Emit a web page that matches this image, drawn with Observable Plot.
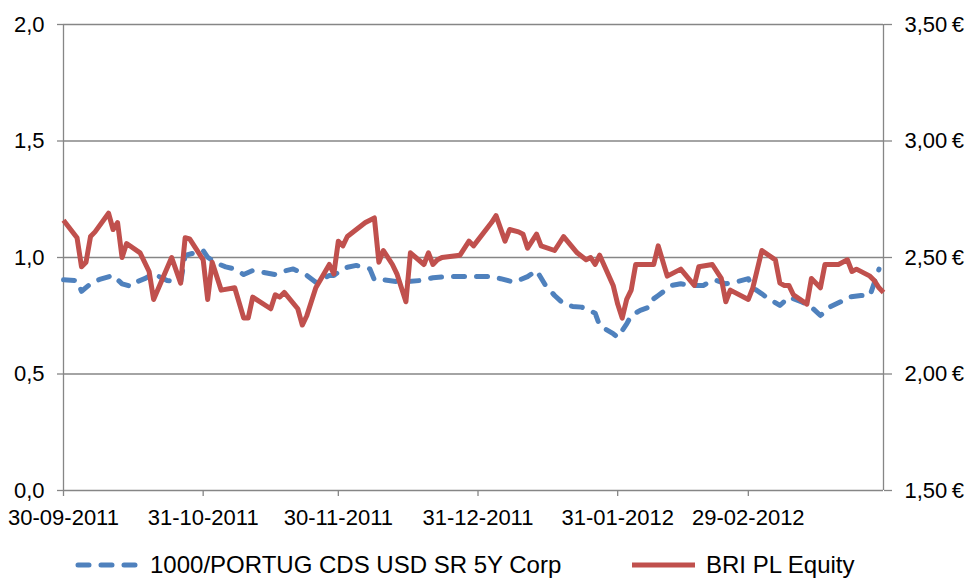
<!DOCTYPE html>
<html><head><meta charset="utf-8">
<script src="https://cdn.jsdelivr.net/npm/d3@7"></script>
<script src="https://cdn.jsdelivr.net/npm/@observablehq/plot@0.6"></script>
<style>
body{margin:0;background:#fff;font-family:"Liberation Sans",Arial,sans-serif;}
#chart{position:relative;width:965px;height:578px;overflow:hidden;}
#legend{position:absolute;left:0;top:546px;width:965px;height:38px;font-size:24px;color:#000;}
#legend .item{position:absolute;top:0;height:38px;display:flex;align-items:center;white-space:nowrap;}
#legend svg{display:block;}
</style></head><body><div id="chart"></div><script>
const seriesNames = ["1000/PORTUG CDS USD SR 5Y Corp", "BRI PL Equity"];
const seriesColors = ["#4F81BD", "#C0504D"];
const leftTicks = [0, 0.5, 1, 1.5, 2];
const rightOffset = 1.5;
const xTickDates = ["2011-09-30","2011-10-31","2011-11-30","2011-12-31","2012-01-31","2012-02-29"];
const xDomain = ["2011-09-30", "2012-03-30"];

const blueDates = ["2011-09-30","2011-10-03","2011-10-04","2011-10-06","2011-10-08","2011-10-11","2011-10-13","2011-10-15","2011-10-16","2011-10-18","2011-10-20","2011-10-23","2011-10-26","2011-10-27","2011-10-31","2011-11-01","2011-11-03","2011-11-05","2011-11-07","2011-11-09","2011-11-11","2011-11-16","2011-11-17","2011-11-20","2011-11-23","2011-11-25","2011-11-28","2011-11-29","2011-12-01","2011-12-02","2011-12-04","2011-12-07","2011-12-08","2011-12-10","2011-12-14","2011-12-18","2011-12-21","2011-12-24","2012-01-03","2012-01-05","2012-01-08","2012-01-11","2012-01-13","2012-01-15","2012-01-17","2012-01-19","2012-01-21","2012-01-23","2012-01-26","2012-01-27","2012-01-30","2012-01-31","2012-02-02","2012-02-03","2012-02-05","2012-02-07","2012-02-08","2012-02-09","2012-02-12","2012-02-14","2012-02-16","2012-02-19","2012-02-21","2012-02-22","2012-02-24","2012-02-26","2012-02-29","2012-03-01","2012-03-03","2012-03-04","2012-03-07","2012-03-09","2012-03-12","2012-03-14","2012-03-16","2012-03-18","2012-03-21","2012-03-22","2012-03-25","2012-03-27","2012-03-29"];
const blueValues = [0.904,0.901,0.855,0.887,0.906,0.923,0.887,0.876,0.894,0.909,0.930,0.901,0.894,1.009,1.030,1.001,0.975,0.960,0.951,0.927,0.944,0.927,0.937,0.951,0.923,0.894,0.923,0.923,0.951,0.958,0.966,0.951,0.904,0.904,0.894,0.901,0.913,0.918,0.918,0.909,0.894,0.918,0.944,0.880,0.837,0.801,0.790,0.787,0.761,0.708,0.673,0.658,0.715,0.751,0.773,0.787,0.823,0.837,0.880,0.887,0.880,0.880,0.901,0.901,0.887,0.894,0.909,0.870,0.844,0.830,0.794,0.830,0.808,0.787,0.751,0.787,0.815,0.830,0.837,0.837,0.950];

const redDates = ["2011-09-30","2011-10-03","2011-10-04","2011-10-05","2011-10-06","2011-10-07","2011-10-10","2011-10-11","2011-10-12","2011-10-13","2011-10-14","2011-10-17","2011-10-19","2011-10-20","2011-10-24","2011-10-26","2011-10-27","2011-10-28","2011-10-31","2011-11-01","2011-11-02","2011-11-04","2011-11-07","2011-11-09","2011-11-10","2011-11-11","2011-11-15","2011-11-16","2011-11-17","2011-11-18","2011-11-21","2011-11-22","2011-11-23","2011-11-25","2011-11-28","2011-11-29","2011-11-30","2011-12-01","2011-12-02","2011-12-06","2011-12-07","2011-12-08","2011-12-09","2011-12-10","2011-12-12","2011-12-13","2011-12-14","2011-12-15","2011-12-16","2011-12-19","2011-12-20","2011-12-21","2011-12-22","2011-12-23","2011-12-27","2011-12-29","2011-12-30","2012-01-03","2012-01-04","2012-01-06","2012-01-07","2012-01-09","2012-01-10","2012-01-11","2012-01-13","2012-01-14","2012-01-17","2012-01-19","2012-01-22","2012-01-24","2012-01-25","2012-01-26","2012-01-27","2012-01-30","2012-01-31","2012-02-01","2012-02-02","2012-02-03","2012-02-04","2012-02-08","2012-02-09","2012-02-11","2012-02-14","2012-02-17","2012-02-18","2012-02-21","2012-02-23","2012-02-24","2012-02-25","2012-02-29","2012-03-01","2012-03-03","2012-03-06","2012-03-07","2012-03-08","2012-03-09","2012-03-10","2012-03-13","2012-03-14","2012-03-16","2012-03-17","2012-03-20","2012-03-22","2012-03-23","2012-03-24","2012-03-27","2012-03-28","2012-03-29","2012-03-30"];
const redValues = [2.66,2.585,2.46,2.48,2.59,2.61,2.69,2.62,2.65,2.50,2.56,2.52,2.44,2.32,2.50,2.39,2.585,2.58,2.49,2.32,2.48,2.36,2.37,2.24,2.24,2.33,2.28,2.34,2.33,2.35,2.28,2.21,2.25,2.37,2.47,2.43,2.57,2.55,2.59,2.65,2.66,2.67,2.48,2.53,2.47,2.43,2.37,2.31,2.52,2.47,2.52,2.47,2.49,2.50,2.51,2.57,2.55,2.65,2.68,2.57,2.62,2.61,2.60,2.54,2.60,2.55,2.53,2.59,2.52,2.49,2.50,2.47,2.51,2.38,2.30,2.24,2.32,2.36,2.47,2.47,2.55,2.42,2.45,2.38,2.46,2.47,2.41,2.31,2.36,2.32,2.37,2.53,2.49,2.39,2.38,2.38,2.34,2.30,2.41,2.37,2.47,2.47,2.49,2.44,2.45,2.42,2.40,2.37,2.35];

const parse = d3.utcParse("%Y-%m-%d");
const blue = blueDates.map((d, i) => ({date: parse(d), value: blueValues[i]}));
const red = redDates.map((d, i) => ({date: parse(d), value: redValues[i] - rightOffset}));
const fmtX = d3.utcFormat("%d-%m-%Y");
const fmtLeft = d => d.toFixed(1).replace(".", ",");
const fmtRight = d => (d + rightOffset).toFixed(2).replace(".", ",") + "\u2009€";
const grey = "#868686";
const dom = xDomain.map(parse);

const plot = Plot.plot({
  width: 965, height: 540,
  marginLeft: 63, marginRight: 82, marginTop: 24, marginBottom: 50,
  style: {fontFamily: '"Liberation Sans", Arial, sans-serif', fontSize: "22px", color: "#000", background: "#fff", overflow: "visible"},
  x: {type: "utc", domain: dom},
  y: {domain: [0, 2]},
  marks: [
    Plot.ruleY(leftTicks, {stroke: grey, strokeWidth: 1.3}),
    Plot.ruleX(dom, {stroke: grey, strokeWidth: 1.3}),
    Plot.axisY(leftTicks, {anchor: "left", tickSize: 6, tickPadding: 13, tickFormat: fmtLeft, stroke: grey, strokeWidth: 1.3, fill: "#000", label: null}),
    Plot.axisY(leftTicks, {anchor: "right", tickSize: 8, tickPadding: 13, tickFormat: fmtRight, stroke: grey, strokeWidth: 1.3, fill: "#000", label: null}),
    Plot.axisX(xTickDates.map(parse), {tickSize: 6, tickPadding: 13, tickFormat: fmtX, stroke: grey, strokeWidth: 1.3, fill: "#000", label: null}),
    Plot.line(blue, {x: "date", y: "value", stroke: seriesColors[0], strokeWidth: 5, strokeDasharray: "11,12", strokeLinecap: "round", strokeLinejoin: "round"}),
    Plot.line(red, {x: "date", y: "value", stroke: seriesColors[1], strokeWidth: 5, strokeLinejoin: "round", strokeLinecap: "butt"})
  ]
});
const chart = document.getElementById("chart");
chart.appendChild(plot);

const legend = document.createElement("div");
legend.id = "legend";
const items = [
  {swLeft: 75, textLeft: 150, dash: "11,12", cap: "round"},
  {swLeft: 632, textLeft: 706, dash: null, cap: "butt"}
];
items.forEach((it, i) => {
  const sw = document.createElement("div");
  sw.className = "item";
  sw.style.left = it.swLeft + "px";
  sw.innerHTML = `<svg width="66" height="10"><line x1="${it.cap === "round" ? 3 : 0}" x2="63" y1="5" y2="5" stroke="${seriesColors[i]}" stroke-width="5" ${it.dash ? `stroke-dasharray="${it.dash}"` : ""} stroke-linecap="${it.cap}"/></svg>`;
  legend.appendChild(sw);
  const t = document.createElement("div");
  t.className = "item";
  t.style.left = it.textLeft + "px";
  t.textContent = seriesNames[i];
  legend.appendChild(t);
});
chart.appendChild(legend);
</script></body></html>
